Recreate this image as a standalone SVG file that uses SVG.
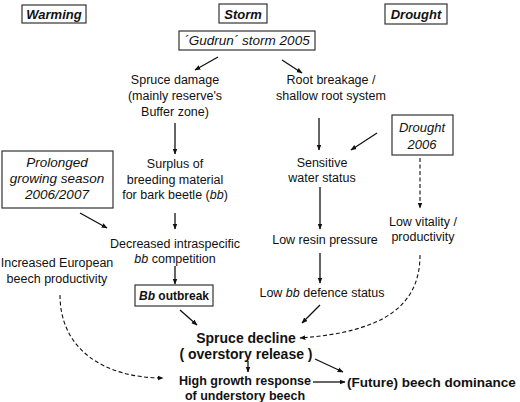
<svg xmlns="http://www.w3.org/2000/svg" width="520" height="402" viewBox="0 0 520 402">
<defs>
<marker id="ah" viewBox="0 0 10 10" refX="9" refY="5" markerWidth="6" markerHeight="6" orient="auto" markerUnits="userSpaceOnUse"><path d="M0,1 L10,5 L0,9 Z" fill="#111"/></marker>
<style>
text{font-family:"Liberation Sans",Arial,sans-serif;fill:#111;text-anchor:middle}
.n{font-size:12.5px}
.t{font-size:13px;font-weight:bold;font-style:italic}
.i{font-style:italic}
.bx{fill:#fff;stroke:#333;stroke-width:1.2}
.c{stroke:#111;stroke-width:1.3;fill:none;marker-end:url(#ah)}
.d{stroke:#111;stroke-width:1.1;fill:none;stroke-dasharray:4,2.5;marker-end:url(#ah)}
.b{font-weight:bold}
</style>
</defs>
<g id="warming"><rect class="bx" x="22" y="5" width="64" height="18"/><text class="t" x="54" y="19">Warming</text></g>
<g id="storm"><rect class="bx" x="219" y="4" width="48" height="19"/><text class="t" x="243" y="19">Storm</text></g>
<g id="drought"><rect class="bx" x="385" y="4" width="62" height="20"/><text class="t" x="416" y="19">Drought</text></g>
<g id="gudrun"><rect class="bx" x="179" y="31" width="136" height="19"/><text class="i" x="247" y="45" style="font-size:13.5px">´Gudrun´ storm 2005</text></g>
<g id="spruce-damage"><text class="n" x="175" y="84">Spruce damage</text><text class="n" x="175" y="100">(mainly reserve's</text><text class="n" x="175" y="116">Buffer zone)</text></g>
<g id="root"><text class="n" x="331" y="84">Root breakage /</text><text class="n" x="331" y="100">shallow root system</text></g>
<g id="drought2006"><rect class="bx" x="392" y="115" width="61" height="40"/><text class="i" x="422" y="132" style="font-size:13px">Drought</text><text class="i" x="422" y="149" style="font-size:13px">2006</text></g>
<g id="prolonged"><rect class="bx" x="2" y="151" width="111" height="57"/><text class="i" x="57" y="167" style="font-size:13.5px">Prolonged</text><text class="i" x="57" y="183" style="font-size:13.5px">growing season</text><text class="i" x="57" y="199" style="font-size:13.5px">2006/2007</text></g>
<g id="surplus"><text class="n" x="175" y="168">Surplus of</text><text class="n" x="175" y="183.5">breeding material</text><text class="n" x="175" y="199">for bark beetle (<tspan class="i">bb</tspan>)</text></g>
<g id="sensitive"><text class="n" x="322" y="167">Sensitive</text><text class="n" x="322" y="182">water status</text></g>
<g id="low-vitality"><text class="n" x="423" y="226">Low vitality /</text><text class="n" x="423" y="241">productivity</text></g>
<g id="low-resin"><text class="n" x="325" y="244">Low resin pressure</text></g>
<g id="decreased"><text class="n" x="175" y="248">Decreased intraspecific</text><text class="n" x="175" y="263"><tspan class="i">bb</tspan> competition</text></g>
<g id="increased"><text class="n" x="57" y="267">Increased European</text><text class="n" x="57" y="283">beech productivity</text></g>
<g id="low-bb"><text class="n" x="322" y="297">Low <tspan class="i">bb</tspan> defence status</text></g>
<g id="bb-outbreak"><rect class="bx" x="135" y="285" width="78" height="21"/><text class="b" x="174" y="300" style="font-size:12px"><tspan class="i">Bb</tspan> outbreak</text></g>
<g id="spruce-decline"><text class="b" x="246" y="343" style="font-size:14px">Spruce decline</text><text class="b" x="246" y="359" style="font-size:14px">( overstory release )</text></g>
<g id="high-growth"><text class="b" x="245" y="385" style="font-size:12.5px">High growth response</text><text class="b" x="245" y="400" style="font-size:12.5px">of understory beech</text></g>
<g id="future"><text class="b" x="347" y="387" style="font-size:13.5px;text-anchor:start">(Future) beech dominance</text></g>
<g id="connectors">
<line class="c" x1="218" y1="57" x2="195" y2="70"/>
<line class="c" x1="282" y1="60" x2="302" y2="73"/>
<line class="c" x1="175" y1="123" x2="175" y2="154"/>
<line class="c" x1="319" y1="118" x2="319" y2="150"/>
<line class="c" x1="377" y1="133" x2="351" y2="150"/>
<line class="c" x1="175" y1="213" x2="175" y2="229"/>
<line class="c" x1="80" y1="213" x2="107" y2="228"/>
<line class="c" x1="320" y1="187" x2="320" y2="229"/>
<line class="d" x1="420" y1="158" x2="420" y2="208"/>
<line class="c" x1="320" y1="253" x2="320" y2="283"/>
<line class="c" x1="175" y1="266" x2="175" y2="284"/>
<line class="c" x1="320" y1="305" x2="302" y2="323"/>
<line class="c" x1="180" y1="310" x2="197" y2="325"/>
<path class="d" d="M420,255 C420,305 385,332 300,338"/>
<path class="d" d="M60,295 C60,350 105,378 163,378"/>
<line class="c" x1="248" y1="361" x2="248" y2="372"/>
<line class="c" x1="315" y1="359" x2="343" y2="372"/>
<line class="c" x1="313" y1="382" x2="345" y2="382"/>
</g>
</svg>
